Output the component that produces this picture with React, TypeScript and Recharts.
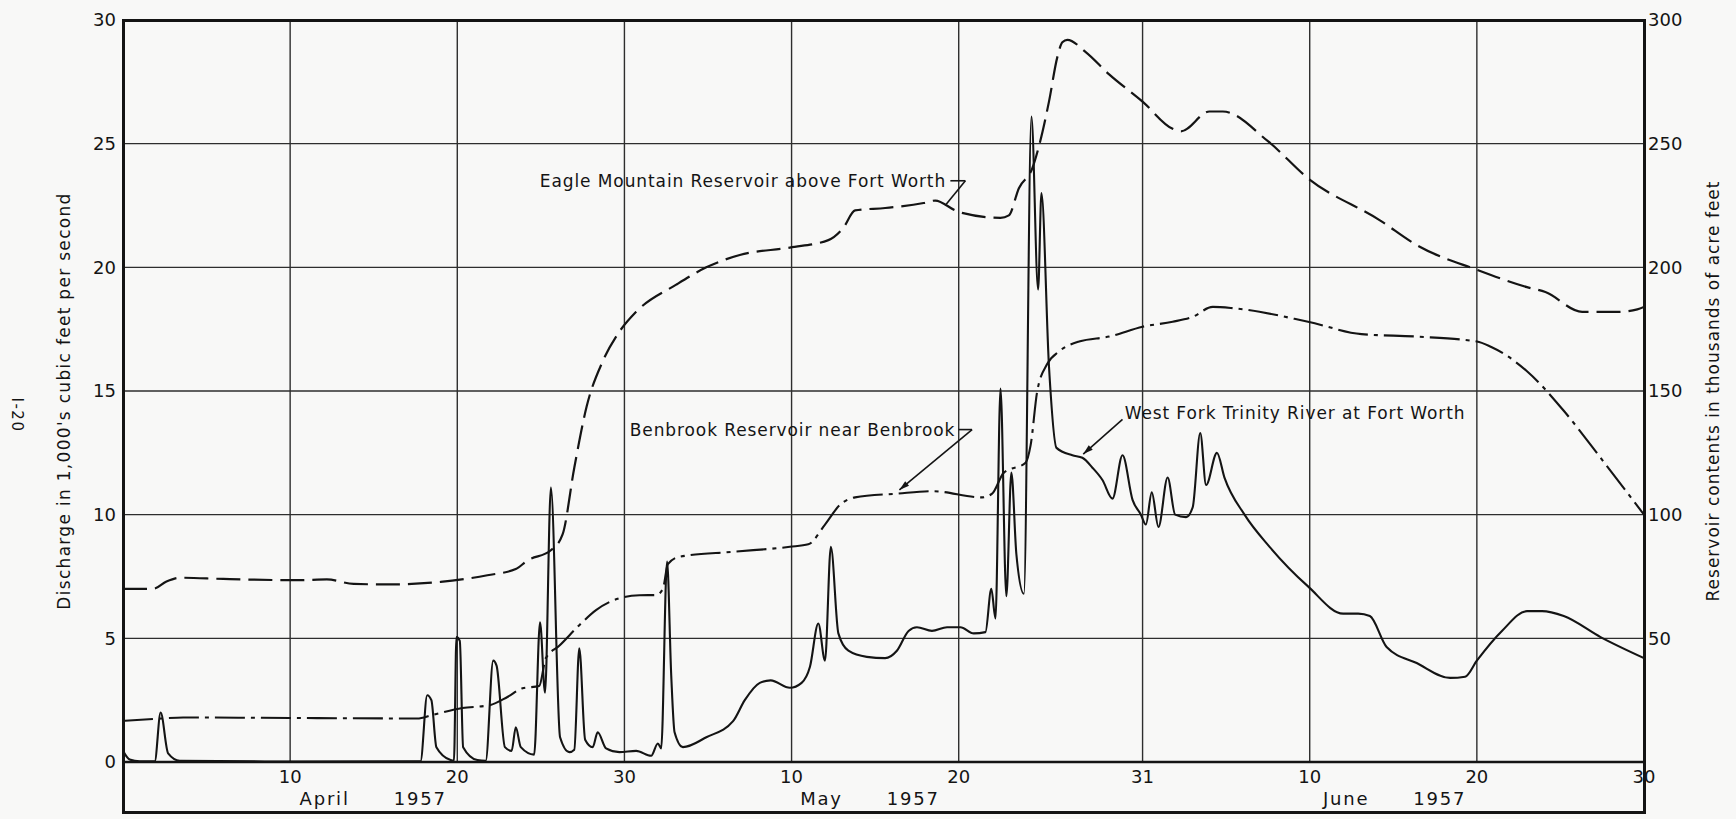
import React from 'react';
import { LineChart, Line, XAxis, YAxis, CartesianGrid, ReferenceDot, ReferenceLine } from 'recharts';

// x runs in days from the start of April (0) to the end of June (91)
const dayTicks = [10, 20, 30, 40, 50, 61, 71, 81, 91];
const dayTickLabels = ['10', '20', '30', '10', '20', '31', '10', '20', '30'];
const monthCenters = [15, 44.5, 76];
const monthNames = ['April', 'May', 'June'];
const dischargeTicks = [0, 5, 10, 15, 20, 25, 30];
// the right-hand zero shares the "30" of the last date label
const contentsTicks = [50, 100, 150, 200, 250, 300];

// West Fork Trinity River at Fort Worth, discharge in 1,000 cfs
const westForkDays = [
  0, 0.4, 1.0, 1.9, 2.25, 2.7, 3.4, 10, 17.8, 18.2, 18.45, 18.75, 19.6, 19.8, 19.95, 20.15, 20.35, 21.2,
  21.7, 22.15, 22.35, 22.85, 23.25, 23.5, 23.8, 24.6, 24.95, 25.25, 25.6, 26.15, 26.7, 27.0, 27.3, 27.65,
  28.1, 28.4, 28.9, 29.7, 30.7, 31.6, 32.0, 32.2, 32.55, 32.8, 33.0, 33.5, 34.9, 36.5, 37.2, 38.1, 38.75,
  39.9, 40.6, 41.1, 41.6, 42.0, 42.35, 42.8, 43.4, 44.5, 45.6, 46.3, 47.0, 47.5, 48.4, 49.3, 50.1, 50.9,
  51.6, 51.95, 52.2, 52.5, 52.85, 53.15, 53.45, 53.9, 54.35, 54.75, 54.95, 55.4, 55.85, 56.8, 57.4, 58.0,
  58.6, 59.2, 59.8, 60.4, 60.9, 61.2, 61.55, 61.95, 62.5, 62.95, 63.6, 64.0, 64.45, 64.8, 65.45, 65.9,
  67.1, 68.6, 70.9, 73.0, 73.9, 74.6, 75.6, 77.4, 79.4, 80.3, 81.0, 82.5, 84.0, 84.9, 86.2, 88.4, 91,
];
const westForkFlow = [
  0.45, 0.1, 0.03, 0.03, 2.0, 0.35, 0.05, 0.02, 0.03, 2.7, 2.5, 0.6, 0.08, 0.05, 5.05, 4.9, 0.6, 0.08,
  0.05, 4.1, 3.9, 0.6, 0.45, 1.4, 0.6, 0.3, 5.65, 2.8, 11.1, 1.0, 0.4, 0.5, 4.6, 0.9,
  0.6, 1.2, 0.55, 0.4, 0.45, 0.25, 0.75, 0.55, 8.1, 3.5, 1.2, 0.6, 1.0, 1.65, 2.5, 3.2, 3.3,
  3.0, 3.2, 3.85, 5.6, 4.1, 8.7, 5.2, 4.5, 4.25, 4.2, 4.5, 5.3, 5.45, 5.3, 5.45, 5.45, 5.2,
  5.25, 7.0, 5.8, 15.1, 6.7, 11.7, 8.4, 6.8, 26.1, 19.1, 23.0, 16.0, 12.7, 12.4, 12.3, 11.9,
  11.4, 10.65, 12.4, 10.6, 10.0, 9.6, 10.9, 9.5, 11.5, 10.0, 9.9, 10.3, 13.3, 11.2, 12.5, 11.5,
  10.0, 8.7, 7.1, 6.0, 6.0, 5.9, 4.65, 4.0, 3.4, 3.45, 4.1, 5.3, 6.1, 6.1, 5.9, 5.05, 4.2,
];

// Eagle Mountain Reservoir above Fort Worth, contents in 1,000 acre-ft
const eagleDays = [
  0, 1.8, 2.6, 3.4, 6, 10.5, 12.2, 13.8, 16, 19, 21.8, 23.5, 24.2, 25.6, 26.3, 27.0, 27.75, 28.7, 29.6,
  30.7, 33.1, 34.9, 36.9, 39.9, 42.2, 43.1, 43.8, 45.6, 47.9, 48.6, 49.8, 50.2, 52.5, 53.0, 53.6, 54.4,
  54.8, 55.4, 55.9, 56.2, 56.5, 57.6, 59.0, 61.0, 62.8, 63.3, 65.0, 65.8, 68.5, 70.9, 75.2, 77.4, 81.0,
  84.0, 85.1, 87.3, 89.5, 90.6, 91,
];
const eagleContents = [
  70, 70, 73, 74.5, 74, 73.5, 73.8, 72, 71.8, 72.8, 75.5, 78, 81.5, 85.6, 92, 119, 144, 162, 173,
  182, 193, 200, 205, 208, 211, 216, 223, 224, 226, 227, 223, 222, 220, 221, 232, 240,
  249, 267, 285, 291, 292, 287, 278, 267, 256, 255, 263, 263, 251, 236, 219, 209, 199,
  192, 190, 182, 182, 183, 184,
];

// Benbrook Reservoir near Benbrook, contents in 1,000 acre-ft
const benbrookDays = [
  0, 2.3, 3.6, 10, 17.6, 18.5, 20.3, 21.95, 23.0, 23.9, 24.9, 25.3, 26.1, 27.3, 28.3, 29.7, 30.9, 31.9,
  32.3, 32.6, 33.3, 36.5, 39.9, 41.0, 42.0, 42.9, 43.8, 46.3, 48.4, 51.4, 52.0, 52.7, 54.0, 54.3, 54.7,
  55.3, 56.0, 57.2, 59.0, 61.0, 62.8, 64.0, 65.2, 66.4, 70.9, 74.1, 77.4, 81.0, 81.8, 84.0, 86.2, 88.4, 91,
];
const benbrookContents = [
  16.6, 17.6, 18.0, 17.8, 17.6, 19, 21.8, 23, 26.3, 29.8, 30.7, 42, 47, 55.3, 61.4, 66.2, 67.4, 67.5,
  70, 80, 83, 85, 87, 88, 96, 104, 107, 108.5, 109.5, 107, 108.5, 117, 121, 128, 150,
  161, 166, 170, 172, 176, 178, 180, 184, 183.5, 178, 173, 172, 170, 168, 158, 142, 123, 100,
];

const zip = (days: number[], vals: number[]) => days.map((day, i) => ({ day, v: vals[i] }));
const westForkData = zip(westForkDays, westForkFlow);
const eagleData = zip(eagleDays, eagleContents);
const benbrookData = zip(benbrookDays, benbrookContents);

const W = 1736;
const H = 819;
const PLOT_LEFT = 123;
const PLOT_RIGHT = 1644;
const PLOT_TOP = 20;
const FRAME_BOTTOM = 812;
const FONT = '"DejaVu Sans", "Liberation Sans", sans-serif';
const INK = '#141414';

const textStyle = (spacing: number) => ({ fontFamily: FONT, letterSpacing: `${spacing}px` });

function MonthTick(props: any) {
  const { x, y, payload } = props;
  const name = monthNames[monthCenters.indexOf(payload.value)];
  return (
    <g fill={INK} fontSize={18} style={textStyle(1.8)}>
      <text x={x - 24} y={y} dy="0.71em" textAnchor="end">{name}</text>
      <text x={x + 20} y={y} dy="0.71em" textAnchor="start">1957</text>
    </g>
  );
}

function ContentsTick(props: any) {
  const { x, y, payload } = props;
  return (
    <text x={x} y={y} dy="0.355em" textAnchor="start" fill={INK} fontSize={18} style={textStyle(0)}>
      {payload.value}
    </text>
  );
}

function DischargeTitle(props: any) {
  const vb = props.viewBox || { x: 0, y: PLOT_TOP, width: PLOT_LEFT, height: 742 };
  const cx = vb.x + 64;
  const cy = vb.y + vb.height / 2 + 10;
  const mx = vb.x + 17;
  const my = vb.y + vb.height / 2 + 24;
  return (
    <g fill={INK}>
      <text x={cx} y={cy} transform={`rotate(-90 ${cx} ${cy})`} textAnchor="middle" dominantBaseline="central"
        fontSize={17} style={textStyle(1.3)}>
        Discharge in 1,000's cubic feet per second
      </text>
      <text x={mx} y={my} transform={`rotate(90 ${mx} ${my})`} textAnchor="middle" dominantBaseline="central"
        fontSize={15} style={textStyle(1.5)}>
        I-20
      </text>
    </g>
  );
}

function ContentsTitle(props: any) {
  const vb = props.viewBox || { x: PLOT_RIGHT, y: PLOT_TOP, width: W - PLOT_RIGHT, height: 742 };
  const cx = vb.x + 69;
  const cy = vb.y + vb.height / 2;
  return (
    <text x={cx} y={cy} transform={`rotate(-90 ${cx} ${cy})`} textAnchor="middle" dominantBaseline="central"
      fill={INK} fontSize={17} style={textStyle(1.0)}>
      Reservoir contents in thousands of acre feet
    </text>
  );
}

const note = (text: string) => (props: any) => {
  const vb = props.viewBox || { x: 0, y: 0 };
  return (
    <text x={vb.x} y={vb.y} dominantBaseline="central" fill={INK} fontSize={17} style={textStyle(0.9)}>
      {text}
    </text>
  );
};

function Arrow(props: any) {
  const { x1, y1, x2, y2 } = props;
  const a = Math.atan2(y2 - y1, x2 - x1);
  const bx = x2 - 10 * Math.cos(a);
  const by = y2 - 10 * Math.sin(a);
  const s = Math.sin(a) * 3;
  const c = Math.cos(a) * 3;
  return (
    <g>
      <line x1={x1} y1={y1} x2={x2} y2={y2} stroke={INK} strokeWidth={1.6} />
      <polygon points={`${x2},${y2} ${bx - s},${by + c} ${bx + s},${by - c}`} fill={INK} />
    </g>
  );
}

export default function App() {
  return (
    <div style={{ position: 'absolute', left: 0, top: 0, width: W, height: H, background: '#f8f8f7' }}>
      <LineChart width={W} height={H} margin={{ top: PLOT_TOP, right: 0, bottom: H - FRAME_BOTTOM, left: 0 }}>
        <CartesianGrid stroke="#2e2e2e" strokeWidth={1.4} />
        <XAxis
          dataKey="day"
          type="number"
          domain={[0, 91]}
          allowDataOverflow
          ticks={dayTicks}
          interval={0}
          tickFormatter={(d: number) => dayTickLabels[dayTicks.indexOf(d)]}
          height={20}
          axisLine={{ stroke: INK, strokeWidth: 2.6 }}
          tickLine={false}
          tick={{ fontSize: 18, fill: INK, fontFamily: FONT }}
        />
        <XAxis
          xAxisId="month"
          dataKey="day"
          type="number"
          domain={[0, 91]}
          allowDataOverflow
          ticks={monthCenters}
          interval={0}
          height={30}
          axisLine={false}
          tickLine={false}
          tickMargin={4}
          tick={<MonthTick />}
        />
        <YAxis
          type="number"
          domain={[0, 30]}
          allowDataOverflow
          ticks={dischargeTicks}
          interval={0}
          width={PLOT_LEFT}
          axisLine={false}
          tickLine={false}
          tickSize={6}
          tickMargin={1}
          tick={{ fontSize: 18, fill: INK, fontFamily: FONT }}
          label={DischargeTitle}
        />
        <YAxis
          yAxisId="right"
          orientation="right"
          type="number"
          domain={[0, 300]}
          allowDataOverflow
          ticks={contentsTicks}
          interval={0}
          width={W - PLOT_RIGHT}
          axisLine={false}
          tickLine={false}
          tickSize={4}
          tickMargin={0}
          tick={<ContentsTick />}
          label={ContentsTitle}
        />

        <Line data={eagleData} yAxisId="right" dataKey="v" type="monotone" stroke={INK} strokeWidth={2.2}
          strokeDasharray="24 8" dot={false} activeDot={false} isAnimationActive={false} />
        <Line data={benbrookData} yAxisId="right" dataKey="v" type="monotone" stroke={INK} strokeWidth={2.1}
          strokeDasharray="30 6 4 6" dot={false} activeDot={false} isAnimationActive={false} />
        <Line data={westForkData} dataKey="v" type="monotone" stroke={INK} strokeWidth={2.1}
          dot={false} activeDot={false} isAnimationActive={false} />

        <ReferenceDot x={24.94} y={235} yAxisId="right" r={0} fill="none" stroke="none"
          label={note('Eagle Mountain Reservoir above Fort Worth')} />
        <ReferenceLine yAxisId="right" segment={[{ x: 49.5, y: 235 }, { x: 50.4, y: 235 }]} stroke={INK} strokeWidth={1.6} />
        <ReferenceLine yAxisId="right" segment={[{ x: 50.4, y: 235 }, { x: 49.25, y: 225.5 }]} stroke={INK} strokeWidth={1.6} />

        <ReferenceDot x={30.32} y={134.4} yAxisId="right" r={0} fill="none" stroke="none"
          label={note('Benbrook Reservoir near Benbrook')} />
        <ReferenceLine yAxisId="right" segment={[{ x: 50.0, y: 134.4 }, { x: 50.8, y: 134.4 }]} stroke={INK} strokeWidth={1.6} />
        <ReferenceLine yAxisId="right" segment={[{ x: 50.8, y: 134.4 }, { x: 46.45, y: 110 }]} shape={Arrow} />

        <ReferenceDot x={59.93} y={14.13} r={0} fill="none" stroke="none"
          label={note('West Fork Trinity River at Fort Worth')} />
        <ReferenceLine segment={[{ x: 59.8, y: 13.85 }, { x: 57.45, y: 12.45 }]} shape={Arrow} />
      </LineChart>
      <div
        style={{
          position: 'absolute',
          left: PLOT_LEFT - 1.5,
          top: PLOT_TOP - 1.5,
          width: PLOT_RIGHT - PLOT_LEFT + 3,
          height: FRAME_BOTTOM - PLOT_TOP + 3,
          border: `3px solid ${INK}`,
          boxSizing: 'border-box',
          pointerEvents: 'none',
        }}
      />
    </div>
  );
}
